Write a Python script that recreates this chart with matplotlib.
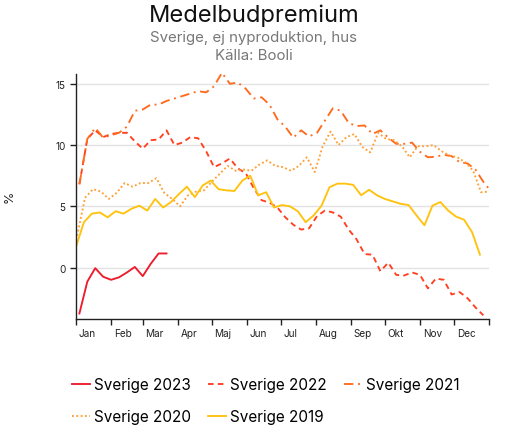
import matplotlib
matplotlib.use("Agg")
import matplotlib.pyplot as plt
import numpy as np

plt.rcParams['font.family'] = ['Inter', 'DejaVu Sans']

title = "Medelbudpremium"
subtitle = "Sverige, ej nyproduktion, hus"
source = "Källa: Booli"

month_labels = ["Jan", "Feb", "Mar", "Apr", "Maj", "Jun", "Jul", "Aug", "Sep", "Okt", "Nov", "Dec"]
month_starts = [0, 31, 59, 90, 120, 151, 181, 212, 243, 273, 304, 334, 365]

# first-week day of year per series, weekly values
start_2023 = 3
v2023 = [-3.75, -1.15, -0.05, -0.75, -1.0, -0.8, -0.4, 0.05, -0.7, 0.3, 1.15, 1.15]

start_2022 = 3
v2022 = [6.8, 10.5, 11.2, 10.65, 10.9, 11.0, 11.0, 10.3, 9.7, 10.4, 10.45, 11.2,
         10.0, 10.2, 10.65, 10.55, 9.5, 8.2, 8.5, 8.9, 8.1, 7.7, 6.5, 5.5,
         5.3, 4.9, 4.1, 3.5, 3.1, 3.2, 4.2, 4.65, 4.5, 4.15, 3.1, 2.3,
         1.1, 1.05, -0.3, 0.4, -0.6, -0.65, -0.4, -0.6, -1.7, -0.9, -1.0, -2.2,
         -2.0, -2.5, -3.25, -3.9]

start_2021 = 3
v2021 = [6.8, 10.5, 11.4, 10.6, 10.8, 11.0, 11.5, 12.8, 12.9, 13.3, 13.3, 13.6,
         13.8, 14.0, 14.2, 14.4, 14.3, 14.8, 15.9, 15.0, 15.1, 14.6, 13.8, 13.9,
         13.3, 12.1, 11.5, 10.6, 11.2, 10.7, 11.0, 12.0, 13.0, 12.8, 11.8, 11.55,
         11.6, 10.9, 11.2, 10.6, 10.1, 10.1, 10.2, 9.45, 9.0, 9.05, 9.2, 9.1,
         8.6, 8.5, 8.0, 7.0, 6.2]

start_2020 = 1
v2020 = [2.6, 5.7, 6.4, 6.2, 5.6, 6.1, 6.9, 6.6, 6.9, 6.9, 7.3, 6.1,
         5.6, 5.0, 5.9, 6.2, 6.3, 7.0, 7.65, 8.3, 7.9, 8.0, 7.9, 8.4,
         8.75, 8.3, 8.2, 7.9, 8.3, 9.0, 7.8, 9.9, 11.1, 10.0, 10.65, 10.9,
         9.85, 9.4, 11.0, 10.5, 10.4, 9.9, 9.0, 9.9, 9.9, 10.0, 9.5, 9.15,
         9.0, 8.6, 7.9, 6.15, 6.2]

start_2019 = 0
v2019 = [1.7, 3.7, 4.4, 4.5, 4.1, 4.6, 4.4, 4.8, 5.05, 4.65, 5.6, 4.9,
         5.35, 6.0, 6.6, 5.75, 6.7, 7.1, 6.4, 6.3, 6.25, 7.1, 7.5, 5.9,
         6.15, 4.9, 5.1, 5.0, 4.6, 3.7, 4.25, 5.05, 6.55, 6.85, 6.85, 6.75,
         5.9, 6.35, 5.9, 5.6, 5.4, 5.2, 5.1, 4.25, 3.45, 5.05, 5.35, 4.65,
         4.15, 3.9, 2.9, 1.05]

series = [
    ("Sverige 2023", start_2023, v2023, "#ee1b2c", "-"),
    ("Sverige 2022", start_2022, v2022, "#ff4020", (0, (3, 2.2))),
    ("Sverige 2021", start_2021, v2021, "#ff6a1c", (0, (5, 2.5, 1, 2.5))),
    ("Sverige 2020", start_2020, v2020, "#ffa035", (0, (1, 1.3))),
    ("Sverige 2019", start_2019, v2019, "#ffc20e", "-"),
]

fig = plt.figure(figsize=(5.09, 4.39), dpi=100)
ax = fig.add_axes([76/509, 1-320/439, (489-76)/509, (320-75)/439])

handles = []
for name, start, vals, col, ls in series:
    days = start + 7*np.arange(len(vals))
    h, = ax.plot(days, vals, color=col, linestyle=ls, lw=1.35, label=name)
    handles.append(h)

ax.set_xlim(0, 365)
ax.set_ylim(-4.2, 15.8)
ax.set_yticks([0, 5, 10, 15])
ax.set_yticklabels(["0", "5", "10", "15"])
ax.yaxis.grid(True, color="#e3e3e3", lw=1)
ax.set_axisbelow(True)
ax.set_xticks(month_starts)
ax.set_xticklabels([""]*len(month_starts))
for d, lab in zip(month_starts[:-1], month_labels):
    ax.text(d + 2.5, -0.035, lab, transform=ax.get_xaxis_transform(),
            ha="left", va="top", fontsize=7.2, color="#222222")
ax.tick_params(axis="both", length=4, width=1, colors="#222222", labelsize=7.2)
for s in ["top", "right"]:
    ax.spines[s].set_visible(False)
for s in ["left", "bottom"]:
    ax.spines[s].set_color("#222222")
    ax.spines[s].set_linewidth(1)

fig.text(10/509, 1-197/439, "%", rotation=90, ha="center", va="center", fontsize=9, color="#222222")

fig.text(254/509, 1-16/439, title, ha="center", va="center", fontsize=17, color="#111111")
fig.text(254/509, 1-38/439, subtitle, ha="center", va="center", fontsize=10.8, color="#777777")
fig.text(254/509, 1-56/439, source, ha="center", va="center", fontsize=10.8, color="#777777")

# row-wise legend order: [2023, 2022, 2021] / [2020, 2019]
order = [0, 3, 1, 4, 2]
leg = fig.legend(handles=[handles[i] for i in order], loc="upper left",
                 bbox_to_anchor=(66/509, 1-372/439), borderaxespad=0,
                 ncol=3, frameon=False, fontsize=11, handlelength=1.15,
                 handletextpad=0.3, columnspacing=1.1, labelspacing=1.1)

fig.savefig("out.png", dpi=100)
